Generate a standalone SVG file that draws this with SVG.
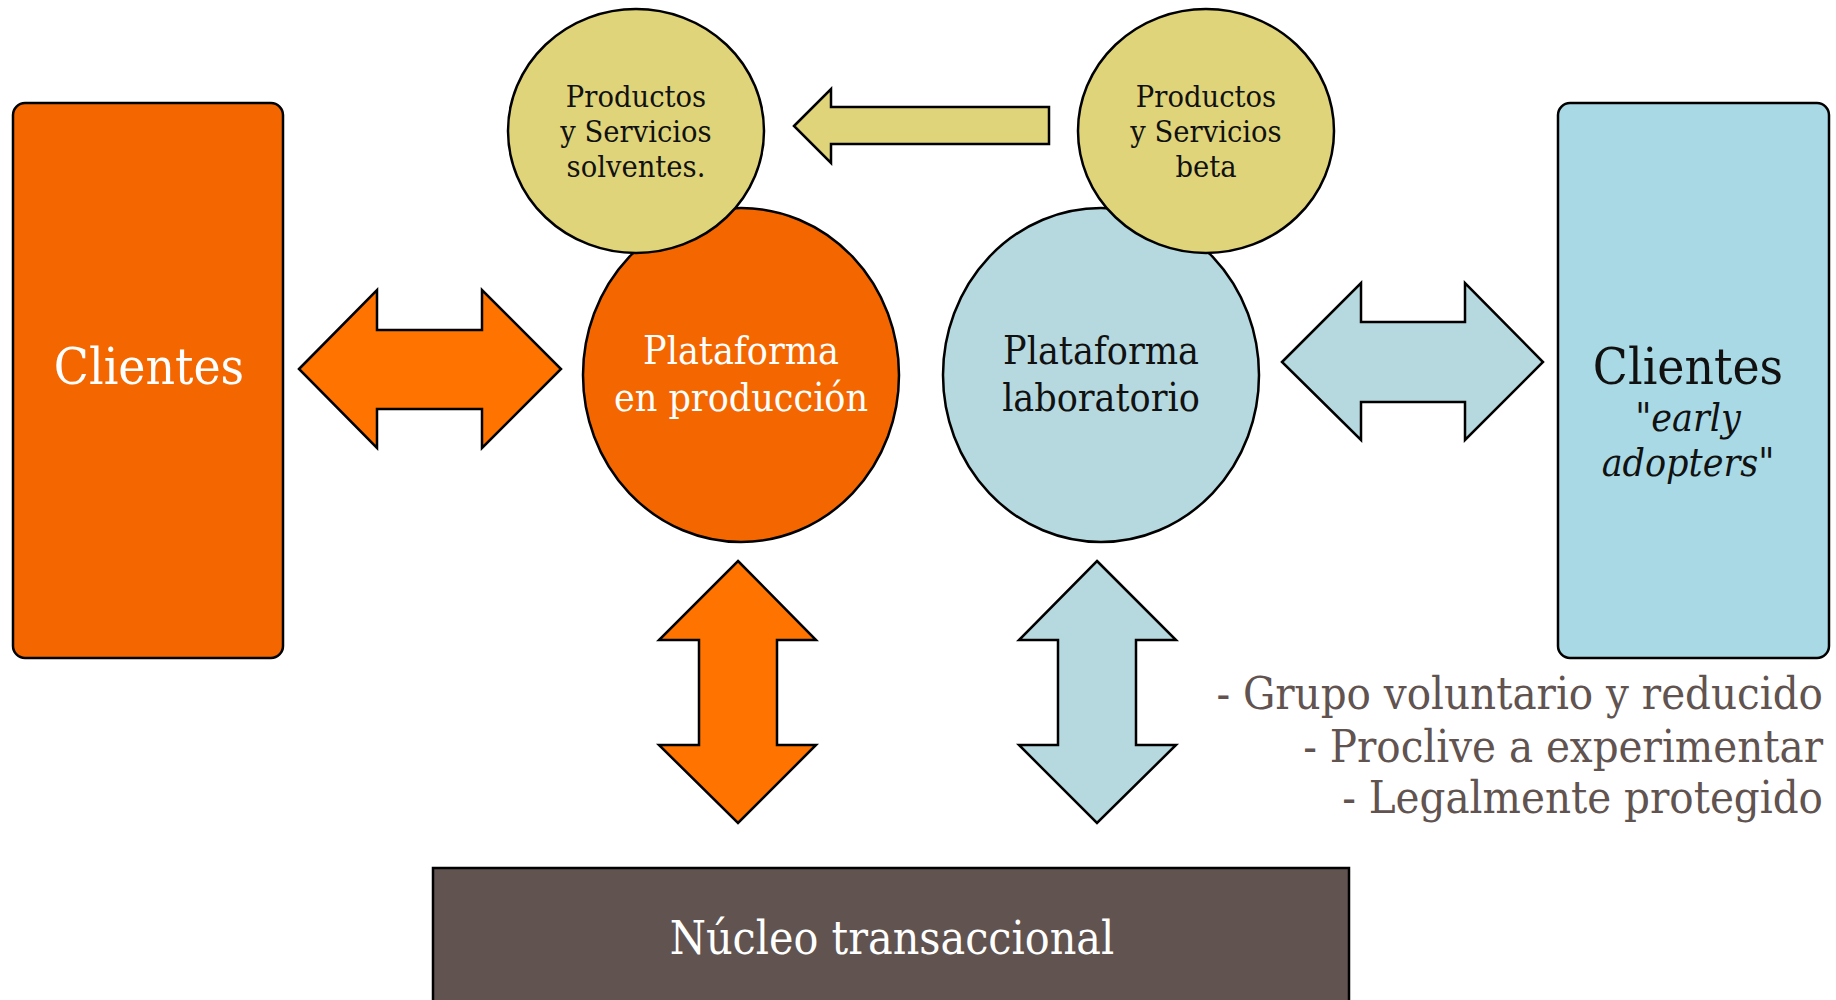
<svg xmlns="http://www.w3.org/2000/svg" width="1836" height="1000" viewBox="0 0 1836 1000">
<style>
.s{stroke:#000;stroke-width:2.5;stroke-linejoin:miter}
.t{font-family:"DejaVu Serif Condensed","DejaVu Serif",serif;text-anchor:middle}
.w{fill:#fff}
.k{fill:#111}
</style>
<rect width="1836" height="1000" fill="#fff"/>
<g id="connectors">
<polygon class="s" fill="#ff7300" points="299,369 377,290 377,330 482,330 482,290 561,369 482,448 482,409 377,409 377,448"/>
<polygon class="s" fill="#dfd47a" points="794,126 831,89 831,107 1049,107 1049,144 831,144 831,163"/>
<polygon class="s" fill="#b6d9df" points="1282,362 1361,283 1361,322 1465,322 1465,283 1543,362 1465,440 1465,402 1361,402 1361,440"/>
<polygon class="s" fill="#ff7300" points="738,561 816,640 777,640 777,745 816,745 738,823 659,745 699,745 699,640 659,640"/>
<polygon class="s" fill="#b6d9df" points="1097,561 1176,640 1136,640 1136,745 1176,745 1097,823 1019,745 1058,745 1058,640 1019,640"/>
</g>
<g id="clientes-izq">
<rect class="s" x="13" y="103" width="270" height="555" rx="12" fill="#f46700"/>
<text class="t w" x="149" y="384" font-size="51">Clientes</text>
</g>
<g id="plataforma-produccion">
<ellipse class="s" cx="741" cy="375" rx="158" ry="167" fill="#f46700"/>
<text class="t w" x="741" y="364" font-size="39">Plataforma</text>
<text class="t w" x="741" y="411" font-size="39">en producción</text>
</g>
<g id="productos-solventes">
<ellipse class="s" cx="636" cy="131" rx="128" ry="122" fill="#dfd47a"/>
<text class="t k" x="636" y="107" font-size="30.5">Productos</text>
<text class="t k" x="636" y="142" font-size="30.5">y Servicios</text>
<text class="t k" x="636" y="177" font-size="30.5">solventes.</text>
</g>
<g id="plataforma-laboratorio">
<ellipse class="s" cx="1101" cy="375" rx="158" ry="167" fill="#b6d9df"/>
<text class="t k" x="1101" y="364" font-size="39">Plataforma</text>
<text class="t k" x="1101" y="411" font-size="39">laboratorio</text>
</g>
<g id="productos-beta">
<ellipse class="s" cx="1206" cy="131" rx="128" ry="122" fill="#dfd47a"/>
<text class="t k" x="1206" y="107" font-size="30.5">Productos</text>
<text class="t k" x="1206" y="142" font-size="30.5">y Servicios</text>
<text class="t k" x="1206" y="177" font-size="30.5">beta</text>
</g>
<g id="clientes-der">
<rect class="s" x="1558" y="103" width="271" height="555" rx="12" fill="#a9d9e4"/>
<text class="t k" x="1688" y="384" font-size="51">Clientes</text>
<text class="t k" x="1688" y="431" font-size="39">"<tspan font-style="italic">early</tspan></text>
<text class="t k" x="1688" y="476" font-size="39"><tspan font-style="italic">adopters</tspan>"</text>
</g>
<g id="nucleo">
<rect class="s" x="433" y="868" width="916" height="140" fill="#615350"/>
<text class="t w" x="892" y="954" font-size="46">Núcleo transaccional</text>
</g>
<g id="notas" fill="#615350" font-family="DejaVu Serif Condensed, DejaVu Serif, serif" font-size="45" text-anchor="end">
<text x="1823" y="709">- Grupo voluntario y reducido</text>
<text x="1823" y="762">- Proclive a experimentar</text>
<text x="1823" y="813">- Legalmente protegido</text>
</g>
</svg>
